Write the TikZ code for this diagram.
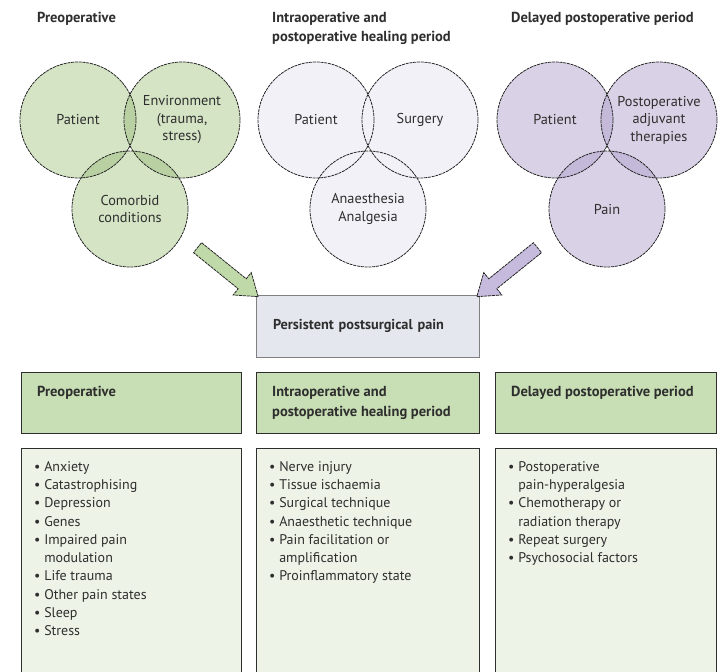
\documentclass[tikz,border=0pt]{standalone}
\usepackage{fontspec}
\setmainfont{PT Sans}
\usetikzlibrary{positioning,shapes.arrows}

\definecolor{greenfill}{HTML}{D4E4C4}
\definecolor{greenlens}{HTML}{B9D1A2}
\definecolor{purplefill}{HTML}{D9D1E5}
\definecolor{purplelens}{HTML}{C5B9D9}
\definecolor{lavfill}{HTML}{F3F1F8}
\definecolor{greenarrow}{HTML}{C0D9A8}
\definecolor{purplearrow}{HTML}{C6BBDC}
\definecolor{hdrgreen}{HTML}{C8DEB4}
\definecolor{listgreen}{HTML}{EDF3E7}
\definecolor{paingray}{HTML}{E4E8EE}
\definecolor{inkgray}{HTML}{2E2E2E}

\begin{document}
\begin{tikzpicture}[x=1pt,y=-1pt,
	venn/.style={circle, minimum size=116pt, inner sep=0pt, draw=black!85, dash pattern=on 3pt off 0.8pt, line width=0.8pt, align=center, text=inkgray, font=\fontsize{14.3}{17.5}\selectfont},
	toptitle/.style={anchor=north west, inner sep=0pt, align=left, text=inkgray, font=\bfseries\fontsize{14.5}{19}\selectfont},
	bigarrow/.style={single arrow, minimum height=78pt, inner sep=6pt, single arrow head extend=8pt, single arrow tip angle=70, draw=black!85, dash pattern=on 3pt off 0.8pt, line width=0.8pt, allow upside down, sloped},
	hdrbox/.style={rectangle, anchor=north west, draw=inkgray, line width=0.8pt, fill=hdrgreen, minimum height=61pt},
	lstbox/.style={rectangle, anchor=north west, draw=inkgray, line width=0.8pt, fill=listgreen, minimum height=232pt},
	hdrtext/.style={anchor=north west, inner sep=0pt, align=left, text=inkgray, font=\bfseries\fontsize{14.5}{20}\selectfont},
	lsttext/.style={anchor=north west, inner sep=0pt, align=left, text=inkgray, font=\fontsize{14}{18.3}\selectfont}]
	\useasboundingbox (0,0) rectangle (719,671);

	% circle fills and darker overlaps
	\foreach \dx/\fc/\lc in {0/greenfill/greenlens, 238/lavfill/lavfill, 477/purplefill/purplelens} {
		\fill[\fc] (78+\dx,120) circle[radius=58pt] (182+\dx,120) circle[radius=58pt] (130+\dx,209) circle[radius=58pt];
		\begin{scope}
			\clip (78+\dx,120) circle[radius=58pt];
			\fill[\lc] (182+\dx,120) circle[radius=58pt] (130+\dx,209) circle[radius=58pt];
		\end{scope}
		\begin{scope}
			\clip (182+\dx,120) circle[radius=58pt];
			\fill[\lc] (130+\dx,209) circle[radius=58pt];
		\end{scope}
	}

	% preoperative
	\node[toptitle] (ttlpre) at (37,12) {Preoperative};
	\node[venn] (prepat) at (78,120) {Patient};
	\node[venn] (preenv) at (182,120) {Environment\\(trauma,\\stress)};
	\node[venn] (precom) at (130,209) {Comorbid\\conditions};

	% intraoperative
	\node[toptitle] (ttlint) at (272,12) {Intraoperative and\\postoperative healing period};
	\node[venn] (intpat) at (316,120) {Patient};
	\node[venn] (intsur) at (420,120) {Surgery};
	\node[venn] (intana) at (368,209) {Anaesthesia\\Analgesia};

	% delayed
	\node[toptitle] (ttldel) at (511,12) {Delayed postoperative period};
	\node[venn] (delpat) at (555,120) {Patient};
	\node[venn] (deladj) at (659,120) {Postoperative\\adjuvant\\therapies};
	\node[venn] (delpain) at (607,209) {Pain};

	% centre
	\node[rectangle, draw=gray, line width=0.8pt, fill=paingray, minimum width=223pt, minimum height=62pt,
		text width=189pt, inner xsep=17pt, align=left, text=inkgray, font=\bfseries\fontsize{14.3}{16}\selectfont]
		(ppp) at (367.5,326) {Persistent postsurgical pain};

	\coordinate (gtail) at (193,244);
	\coordinate (ptail) at (542,244);
	\path (gtail) -- (ppp.north west) node[midway, bigarrow, fill=greenarrow] (garrow) {};
	\path (ptail) -- (ppp.north east) node[midway, bigarrow, fill=purplearrow] (parrow) {};

	% bottom table
	\node[hdrbox, minimum width=220pt] (hdrpre) at (21,372) {};
	\node[hdrbox, minimum width=223pt] (hdrint) at (256,372) {};
	\node[hdrbox, minimum width=221pt] (hdrdel) at (495,372) {};
	\node[hdrtext, below right=14pt and 16pt of hdrpre.north west] (hdrpretxt) {Preoperative};
	\node[hdrtext, below right=14pt and 16pt of hdrint.north west] (hdrinttxt) {Intraoperative and\\postoperative healing period};
	\node[hdrtext, below right=14pt and 16pt of hdrdel.north west] (hdrdeltxt) {Delayed postoperative period};

	\node[lstbox, minimum width=220pt] (lstpre) at (21,448) {};
	\node[lstbox, minimum width=223pt] (lstint) at (256,448) {};
	\node[lstbox, minimum width=221pt] (lstdel) at (495,448) {};
	\node[lsttext, below right=13pt and 13pt of lstpre.north west] (lstpretxt) {%
		\textbullet\ Anxiety\\
		\textbullet\ Catastrophising\\
		\textbullet\ Depression\\
		\textbullet\ Genes\\
		\textbullet\ Impaired pain\\
		\phantom{\textbullet\ }modulation\\
		\textbullet\ Life trauma\\
		\textbullet\ Other pain states\\
		\textbullet\ Sleep\\
		\textbullet\ Stress};
	\node[lsttext, below right=13pt and 13pt of lstint.north west] (lstinttxt) {%
		\textbullet\ Nerve injury\\
		\textbullet\ Tissue ischaemia\\
		\textbullet\ Surgical technique\\
		\textbullet\ Anaesthetic technique\\
		\textbullet\ Pain facilitation or\\
		\phantom{\textbullet\ }amplification\\
		\textbullet\ Proinflammatory state};
	\node[lsttext, below right=13pt and 13pt of lstdel.north west] (lstdeltxt) {%
		\textbullet\ Postoperative\\
		\phantom{\textbullet\ }pain-hyperalgesia\\
		\textbullet\ Chemotherapy or\\
		\phantom{\textbullet\ }radiation therapy\\
		\textbullet\ Repeat surgery\\
		\textbullet\ Psychosocial factors};
\end{tikzpicture}
\end{document}
